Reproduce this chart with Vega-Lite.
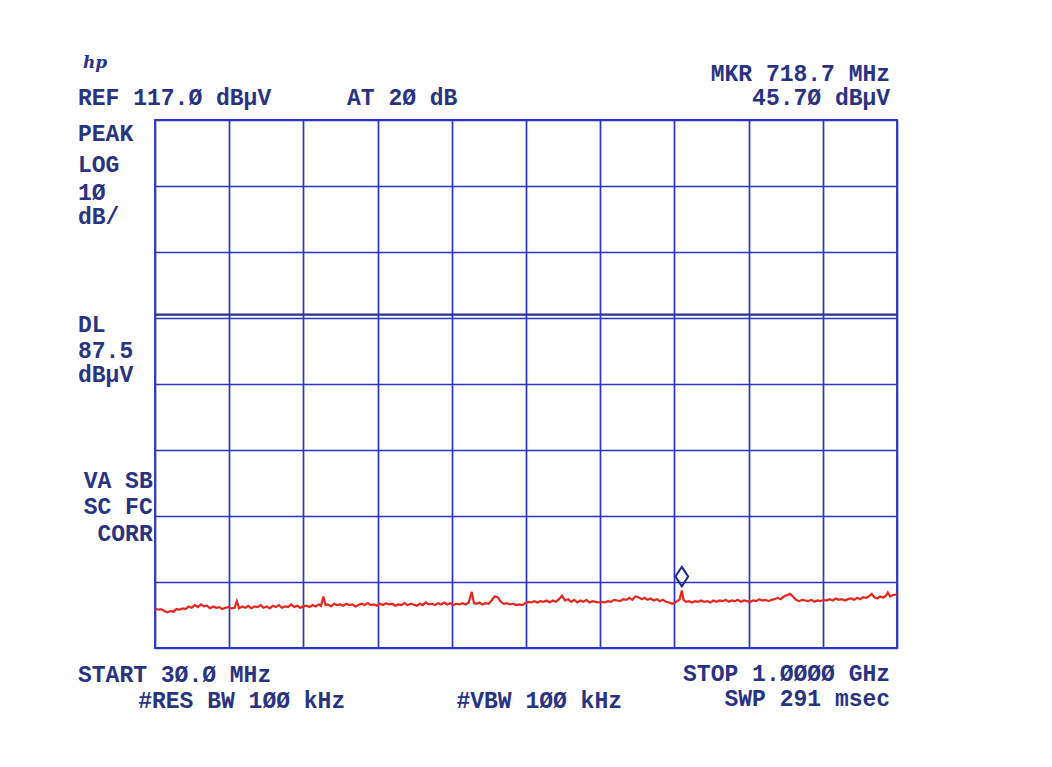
{
  "$schema": "https://vega.github.io/schema/vega-lite/v6.json",
  "width": 742,
  "height": 528,
  "autosize": {"type": "none"},
  "padding": {"left": 155, "top": 120, "right": 155, "bottom": 119},
  "background": "#ffffff",
  "config": {
    "view": {"stroke": "#2b37c2", "strokeWidth": 1.8},
    "axis": {"labels": false, "ticks": false, "domain": false, "title": null, "grid": true, "gridColor": "#2b37c2", "gridWidth": 1.7, "gridOpacity": 1}
  },
  "datasets": {
    "trace": [
      {"f":30,"L":43.0},{"f":34,"L":42.8},{"f":38,"L":42.9},{"f":42,"L":42.6},{"f":46,"L":42.4},{"f":50,"L":42.6},{"f":54,"L":42.5},{"f":58,"L":42.9},{"f":62,"L":42.8},{"f":66,"L":43.0},{"f":70,"L":42.9},{"f":74,"L":43.3},{"f":78,"L":43.1},{"f":82,"L":43.5},{"f":86,"L":43.2},{"f":90,"L":43.6},{"f":94,"L":43.3},{"f":98,"L":43.4},{"f":102,"L":43.0},{"f":106,"L":43.3},{"f":110,"L":43.1},{"f":114,"L":43.2},{"f":118,"L":42.9},{"f":122,"L":43.1},{"f":126,"L":43.2},{"f":130,"L":43.0},{"f":134,"L":43.1},{"f":137,"L":44.1},{"f":140,"L":43.0},{"f":144,"L":43.3},{"f":148,"L":43.1},{"f":152,"L":43.4},{"f":156,"L":43.0},{"f":160,"L":43.3},{"f":164,"L":43.2},{"f":168,"L":43.5},{"f":172,"L":43.1},{"f":176,"L":43.3},{"f":180,"L":43.0},{"f":184,"L":43.4},{"f":188,"L":43.2},{"f":192,"L":43.5},{"f":196,"L":43.1},{"f":200,"L":43.3},{"f":204,"L":43.2},{"f":208,"L":43.6},{"f":212,"L":43.2},{"f":216,"L":43.4},{"f":220,"L":43.1},{"f":224,"L":43.3},{"f":228,"L":43.4},{"f":232,"L":43.2},{"f":236,"L":43.5},{"f":240,"L":43.3},{"f":244,"L":43.6},{"f":247,"L":43.4},{"f":250,"L":44.8},{"f":253,"L":43.5},{"f":256,"L":43.6},{"f":260,"L":43.3},{"f":264,"L":43.7},{"f":268,"L":43.5},{"f":272,"L":43.6},{"f":276,"L":43.4},{"f":280,"L":43.7},{"f":284,"L":43.5},{"f":288,"L":43.6},{"f":292,"L":43.3},{"f":296,"L":43.5},{"f":300,"L":43.7},{"f":304,"L":43.5},{"f":308,"L":43.8},{"f":312,"L":43.5},{"f":316,"L":43.6},{"f":320,"L":43.4},{"f":324,"L":43.7},{"f":328,"L":43.5},{"f":332,"L":43.8},{"f":336,"L":43.6},{"f":340,"L":43.7},{"f":344,"L":43.4},{"f":348,"L":43.6},{"f":352,"L":43.5},{"f":356,"L":43.8},{"f":360,"L":43.5},{"f":364,"L":43.7},{"f":368,"L":43.6},{"f":372,"L":43.4},{"f":376,"L":43.7},{"f":380,"L":43.5},{"f":384,"L":43.9},{"f":388,"L":43.6},{"f":392,"L":43.7},{"f":396,"L":43.5},{"f":400,"L":43.8},{"f":404,"L":43.6},{"f":408,"L":43.9},{"f":412,"L":43.6},{"f":416,"L":43.8},{"f":420,"L":43.5},{"f":424,"L":43.7},{"f":428,"L":43.6},{"f":432,"L":43.8},{"f":436,"L":43.6},{"f":440,"L":43.9},{"f":444,"L":45.5},{"f":447,"L":43.8},{"f":450,"L":43.7},{"f":454,"L":43.9},{"f":458,"L":43.6},{"f":462,"L":43.8},{"f":466,"L":43.7},{"f":470,"L":44.2},{"f":474,"L":44.8},{"f":478,"L":44.7},{"f":482,"L":44.0},{"f":486,"L":43.7},{"f":490,"L":43.8},{"f":494,"L":43.6},{"f":498,"L":43.7},{"f":502,"L":43.5},{"f":506,"L":43.6},{"f":510,"L":43.5},{"f":514,"L":43.8},{"f":518,"L":44.0},{"f":522,"L":43.9},{"f":526,"L":44.1},{"f":530,"L":43.9},{"f":534,"L":44.1},{"f":538,"L":44.0},{"f":542,"L":44.2},{"f":546,"L":43.9},{"f":550,"L":44.2},{"f":554,"L":44.0},{"f":558,"L":44.4},{"f":562,"L":44.9},{"f":566,"L":44.2},{"f":570,"L":44.4},{"f":574,"L":44.0},{"f":578,"L":44.3},{"f":582,"L":43.9},{"f":586,"L":44.2},{"f":590,"L":44.0},{"f":594,"L":44.3},{"f":598,"L":43.9},{"f":602,"L":44.1},{"f":606,"L":44.0},{"f":610,"L":43.9},{"f":614,"L":44.0},{"f":618,"L":43.9},{"f":622,"L":44.1},{"f":626,"L":44.0},{"f":630,"L":44.3},{"f":634,"L":44.2},{"f":638,"L":44.1},{"f":642,"L":44.4},{"f":646,"L":44.3},{"f":650,"L":44.6},{"f":654,"L":44.3},{"f":658,"L":44.8},{"f":662,"L":44.7},{"f":666,"L":44.4},{"f":670,"L":44.6},{"f":674,"L":44.3},{"f":678,"L":44.5},{"f":682,"L":44.2},{"f":686,"L":44.4},{"f":690,"L":44.1},{"f":694,"L":44.3},{"f":698,"L":44.0},{"f":702,"L":43.9},{"f":706,"L":43.7},{"f":710,"L":43.9},{"f":714,"L":44.2},{"f":716,"L":44.4},{"f":718.7,"L":45.7},{"f":721,"L":44.3},{"f":724,"L":44.0},{"f":728,"L":44.1},{"f":732,"L":43.9},{"f":736,"L":44.1},{"f":740,"L":44.0},{"f":744,"L":44.2},{"f":748,"L":44.0},{"f":752,"L":44.1},{"f":756,"L":43.9},{"f":760,"L":44.2},{"f":764,"L":44.0},{"f":768,"L":44.2},{"f":772,"L":44.1},{"f":776,"L":44.3},{"f":780,"L":44.0},{"f":784,"L":44.2},{"f":788,"L":44.1},{"f":792,"L":44.3},{"f":796,"L":44.0},{"f":800,"L":44.2},{"f":804,"L":44.1},{"f":808,"L":44.0},{"f":812,"L":44.2},{"f":816,"L":44.1},{"f":820,"L":44.4},{"f":824,"L":44.2},{"f":828,"L":44.3},{"f":832,"L":44.1},{"f":836,"L":44.3},{"f":840,"L":44.4},{"f":844,"L":44.6},{"f":848,"L":44.4},{"f":852,"L":44.8},{"f":856,"L":45.0},{"f":860,"L":45.2},{"f":864,"L":44.8},{"f":868,"L":44.3},{"f":872,"L":44.1},{"f":876,"L":44.3},{"f":880,"L":44.2},{"f":884,"L":44.1},{"f":888,"L":44.3},{"f":892,"L":44.0},{"f":896,"L":44.2},{"f":900,"L":44.1},{"f":904,"L":44.3},{"f":908,"L":44.2},{"f":912,"L":44.4},{"f":916,"L":44.2},{"f":920,"L":44.5},{"f":924,"L":44.3},{"f":928,"L":44.4},{"f":932,"L":44.2},{"f":936,"L":44.4},{"f":940,"L":44.5},{"f":944,"L":44.3},{"f":948,"L":44.6},{"f":952,"L":44.4},{"f":956,"L":44.7},{"f":960,"L":44.6},{"f":964,"L":44.9},{"f":967,"L":45.2},{"f":970,"L":44.7},{"f":974,"L":44.5},{"f":978,"L":44.8},{"f":982,"L":44.6},{"f":986,"L":45.0},{"f":988,"L":45.4},{"f":991,"L":44.8},{"f":994,"L":45.0},{"f":997,"L":45.1},{"f":1000,"L":45.0}
    ],
    "marker": [{"f": 718.7, "L": 45.7}],
    "dl": [{"L": 87.5}],
    "logo": [{"f": -48.4, "L": 125.6, "t": "hp"}],
    "textLeft": [
      {"f": -70.7, "L": 120.3, "t": "REF 117.Ø dBµV"},
      {"f": 281.0, "L": 120.3, "t": "AT 2Ø dB"},
      {"f": -70.7, "L": 114.9, "t": "PEAK"},
      {"f": -70.7, "L": 110.2, "t": "LOG"},
      {"f": -70.7, "L": 106.0, "t": "1Ø"},
      {"f": -70.7, "L": 102.3, "t": "dB/"},
      {"f": -70.7, "L": 85.9, "t": "DL"},
      {"f": -70.7, "L": 82.0, "t": "87.5"},
      {"f": -70.7, "L": 78.4, "t": "dBµV"},
      {"f": -70.7, "L": 32.9, "t": "START 3Ø.Ø MHz"},
      {"f": 8.0, "L": 28.9, "t": "#RES BW 1ØØ kHz"},
      {"f": 424.0, "L": 28.9, "t": "#VBW 1ØØ kHz"}
    ],
    "textRight": [
      {"f": 991.0, "L": 124.0, "t": "MKR 718.7 MHz"},
      {"f": 991.0, "L": 120.4, "t": "45.7Ø dBµV"},
      {"f": 27.0, "L": 62.3, "t": "VA SB"},
      {"f": 27.0, "L": 58.3, "t": "SC FC"},
      {"f": 27.0, "L": 54.3, "t": "CORR"},
      {"f": 991.0, "L": 33.0, "t": "STOP 1.ØØØØ GHz"},
      {"f": 991.0, "L": 29.3, "t": "SWP 291 msec"}
    ]
  },
  "layer": [
    {
      "data": {"name": "trace"},
      "mark": {"type": "line", "color": "#e8261f", "strokeWidth": 2.2, "interpolate": "linear"},
      "encoding": {
        "x": {"field": "f", "type": "quantitative", "scale": {"domain": [30, 1000], "nice": false, "zero": false}, "axis": {"values": [30, 127, 224, 321, 418, 515, 612, 709, 806, 903, 1000]}},
        "y": {"field": "L", "type": "quantitative", "scale": {"domain": [37, 117], "nice": false, "zero": false}, "axis": {"values": [37, 47, 57, 67, 77, 87, 97, 107, 117]}}
      }
    },
    {
      "data": {"name": "dl"},
      "mark": {"type": "rule", "color": "#283090", "strokeWidth": 2.2},
      "encoding": {"y": {"field": "L", "type": "quantitative"}}
    },
    {
      "data": {"name": "marker"},
      "mark": {"type": "point", "shape": "M0,-1L0.65,0L0,1L-0.65,0Z", "filled": false, "stroke": "#1f2a80", "strokeWidth": 2, "opacity": 1, "strokeOpacity": 1, "size": 380, "yOffset": -14},
      "encoding": {
        "x": {"field": "f", "type": "quantitative"},
        "y": {"field": "L", "type": "quantitative"}
      }
    },
    {
      "data": {"name": "logo"},
      "mark": {"type": "text", "font": "DejaVu Serif", "fontStyle": "italic", "fontWeight": "bold", "fontSize": 17, "color": "#2a3290", "align": "center", "baseline": "middle"},
      "encoding": {
        "x": {"field": "f", "type": "quantitative"},
        "y": {"field": "L", "type": "quantitative"},
        "text": {"field": "t"}
      }
    },
    {
      "data": {"name": "textLeft"},
      "mark": {"type": "text", "font": "Liberation Mono", "fontWeight": "bold", "fontSize": 23, "color": "#2a3282", "align": "left", "baseline": "middle"},
      "encoding": {
        "x": {"field": "f", "type": "quantitative"},
        "y": {"field": "L", "type": "quantitative"},
        "text": {"field": "t"}
      }
    },
    {
      "data": {"name": "textRight"},
      "mark": {"type": "text", "font": "Liberation Mono", "fontWeight": "bold", "fontSize": 23, "color": "#2a3282", "align": "right", "baseline": "middle"},
      "encoding": {
        "x": {"field": "f", "type": "quantitative"},
        "y": {"field": "L", "type": "quantitative"},
        "text": {"field": "t"}
      }
    }
  ]
}
